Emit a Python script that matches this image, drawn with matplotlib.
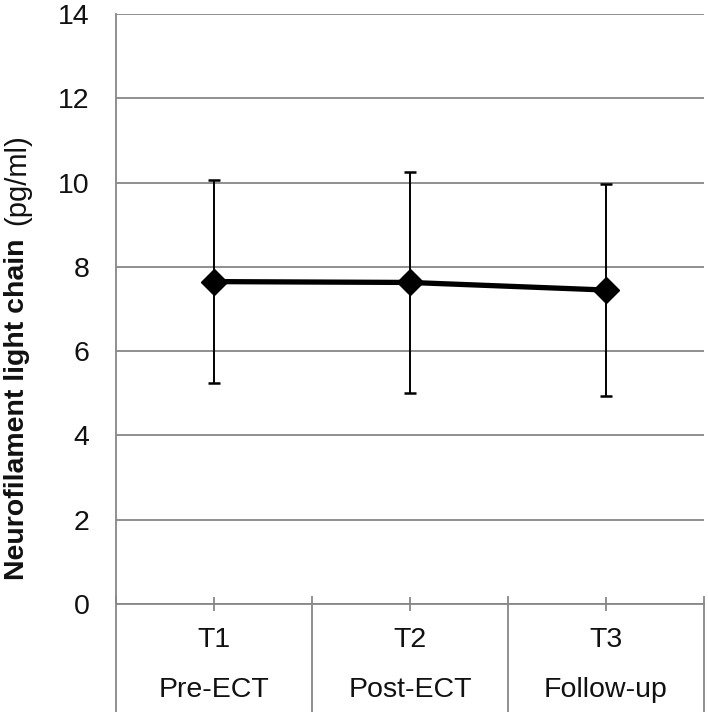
import numpy as np
import matplotlib.pyplot as plt

plt.rcParams['font.family'] = ['Liberation Sans', 'DejaVu Sans']

# data
timepoints = ['T1', 'T2', 'T3']
phases = ['Pre-ECT', 'Post-ECT', 'Follow-up']
means = [7.65, 7.63, 7.45]
upper = [10.06, 10.25, 9.96]
lower = [5.25, 5.00, 4.94]

GRID = '#878787'
TXT = '#111111'
FS = 20.5

fig = plt.figure(figsize=(7.08, 7.12), dpi=100)
ax = fig.add_axes([116 / 708, 1 - 604 / 712, 588 / 708, 590 / 712])

x = np.arange(len(timepoints))
m = np.array(means)
yerr = [m - np.array(lower), np.array(upper) - m]

ax.errorbar(x, m, yerr=yerr, fmt='none', ecolor='black', elinewidth=1.4,
            capsize=4.3, capthick=1.8, zorder=3)
ax.plot(x, m, color='black', lw=3.8, marker='D', ms=13.5, zorder=4)

ax.set_xlim(-0.5, 2.5)
ax.set_ylim(0, 14)
ax.set_yticks(np.arange(0, 15, 2))
ax.yaxis.grid(True, color=GRID, lw=1.3)
ax.set_axisbelow(True)

for s in ['top', 'right']:
    ax.spines[s].set_visible(False)
ax.spines['left'].set_color(GRID)
ax.spines['left'].set_linewidth(1.3)
ax.spines['bottom'].set_color(GRID)
ax.spines['bottom'].set_linewidth(1.3)

ax.tick_params(axis='y', length=0, pad=19, labelsize=FS, labelcolor=TXT)
ax.set_xticks(x)
ax.set_xticklabels([])
ax.tick_params(axis='x', direction='inout', length=9.5, width=1.3, color=GRID)

# category separators extending below the axis
trans = ax.get_xaxis_transform()
for b in np.arange(-0.5, len(timepoints), 1.0):
    ax.plot([b, b], [0.012, -0.184], transform=trans, color=GRID, lw=1.3,
            clip_on=False)

for i in range(len(timepoints)):
    ax.text(i, -0.061, timepoints[i], transform=trans, ha='center', va='center',
            fontsize=FS, color=TXT)
    ax.text(i, -0.146, phases[i], transform=trans, ha='center', va='center',
            fontsize=FS, color=TXT)

# y label: bold name + regular unit
fig.text(17 / 708, 1 - 409 / 712, 'Neurofilament light chain', rotation=90,
         ha='center', va='center', fontsize=20.5, fontweight='bold', color=TXT)
fig.text(17 / 708, 1 - 180 / 712, '(pg/ml)', rotation=90,
         ha='center', va='center', fontsize=21, color=TXT)

fig.savefig('out.png', dpi=100)
